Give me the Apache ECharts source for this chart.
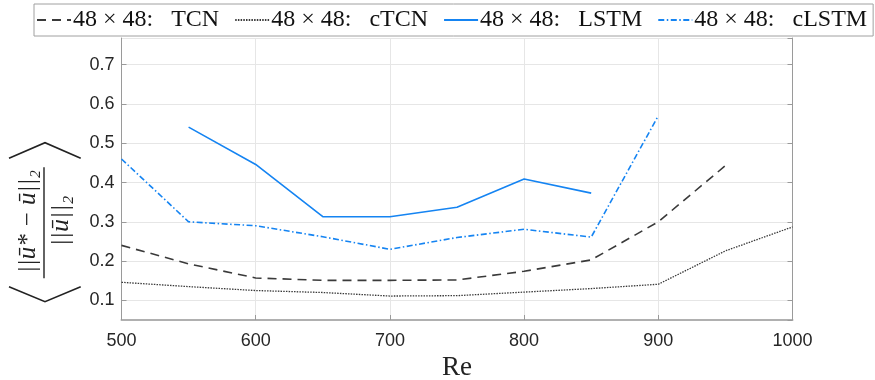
<!DOCTYPE html>
<html><head><meta charset="utf-8">
<script src="https://cdn.jsdelivr.net/npm/echarts@6/dist/echarts.min.js"></script>
<style>html,body{margin:0;padding:0;background:#fff}#c{width:875px;height:380px}</style>
</head><body><div id="c"></div>
<script>
const re = [500, 550, 600, 650, 700, 750, 800, 850, 900, 950, 1000];
const tcn = [0.240, 0.193, 0.157, 0.151, 0.151, 0.152, 0.174, 0.203, 0.300, 0.443, null];
const ctcn = [0.146, 0.135, 0.125, 0.120, 0.111, 0.112, 0.121, 0.130, 0.141, 0.226, 0.287];
const lstm = [null, 0.541, 0.446, 0.313, 0.313, 0.337, 0.409, 0.373, null, null, null];
const clstm = [0.460, 0.300, 0.290, 0.262, 0.230, 0.260, 0.281, 0.261, 0.570, null, null];
const names = ['48 × 48:   TCN', '48 × 48:   cTCN', '48 × 48:   LSTM', '48 × 48:   cLSTM'];
const xTicks = [500, 600, 700, 800, 900, 1000];

function pairs(v) { return re.map((x, i) => [x, v[i]]).filter(p => p[1] !== null); }

const blue = '#1584f2';
const dark = '#3a3a3a';
const chart = echarts.init(document.getElementById('c'), null, {renderer: 'canvas'});
const axisCol = '#9a9a9a';
const tickFont = {fontFamily: 'Liberation Sans', fontSize: 18, color: '#262626'};
const yCommon = {
  type: 'value', min: 0.05, max: 0.768, splitNumber: 7, minInterval: 0.1, maxInterval: 0.1,
  axisLine: {show: true, lineStyle: {color: axisCol, width: 1}},
  axisTick: {show: true, inside: true, length: 5, lineStyle: {color: axisCol}}
};
chart.setOption({
  animation: false,
  grid: {left: 121.5, right: 82.5, top: 38, bottom: 60, outerBoundsMode: 'none', containLabel: false},
  legend: {
    left: 34, top: 4, padding: [4, 6, 4, 2], itemGap: 15, itemWidth: 34, itemHeight: 14,
    backgroundColor: '#fff', borderColor: '#a0a0a0', borderWidth: 1, borderRadius: 0,
    itemStyle: {opacity: 0},
    textStyle: {fontFamily: 'Liberation Serif', fontSize: 24, color: '#111', padding: [0, 0, 0, -3]},
    data: names
  },
  xAxis: {
    type: 'value', min: 500, max: 1000, interval: 100,
    name: 'Re', nameLocation: 'middle', nameGap: 30,
    nameTextStyle: {fontFamily: 'Liberation Serif', fontSize: 27, color: '#222'},
    axisLine: {show: true, lineStyle: {color: '#b0b0b0', width: 2}},
    axisTick: {show: true, inside: true, length: 5, lineStyle: {color: axisCol}},
    axisLabel: Object.assign({margin: 12, formatter: v => xTicks.includes(v) ? String(v) : ''}, tickFont),
    splitLine: {show: true, lineStyle: {color: '#e6e6e6', width: 1}}
  },
  yAxis: [
    Object.assign({}, yCommon, {
      position: 'left',
      axisLabel: Object.assign({margin: 7, showMinLabel: false, showMaxLabel: false,
        formatter: v => (Math.abs(v * 10 - Math.round(v * 10)) < 1e-6 ? v.toFixed(1) : '')}, tickFont),
      splitLine: {show: true, lineStyle: {color: '#e6e6e6', width: 1}}
    }),
    Object.assign({}, yCommon, {
      position: 'right', axisLabel: {show: false}, splitLine: {show: false}
    })
  ],
  series: [
    {name: names[0], type: 'line', data: pairs(tcn), symbol: 'none', z: 3,
     lineStyle: {color: dark, width: 1.6, type: [9, 6]}, itemStyle: {color: dark}},
    {name: names[1], type: 'line', data: pairs(ctcn), symbol: 'none', z: 3,
     lineStyle: {color: dark, width: 1.3, type: [1.5, 1.2]}, itemStyle: {color: dark}},
    {name: names[2], type: 'line', data: pairs(lstm), symbol: 'none', z: 3,
     lineStyle: {color: blue, width: 1.6, type: 'solid'}, itemStyle: {color: blue}},
    {name: names[3], type: 'line', data: pairs(clstm), symbol: 'none', z: 3,
     lineStyle: {color: blue, width: 1.6, type: [6, 2.5, 1.5, 2.5]}, itemStyle: {color: blue}}
  ],
  graphic: [
    {type: 'polyline', shape: {points: [[9, 158.3], [45, 142.7], [80.7, 158.3]]},
     style: {stroke: '#222', lineWidth: 1.6, fill: null}},
    {type: 'polyline', shape: {points: [[9, 286.7], [45, 301.7], [80.7, 286.7]]},
     style: {stroke: '#222', lineWidth: 1.6, fill: null}},
    {type: 'line', shape: {x1: 44, y1: 167.3, x2: 44, y2: 278.3},
     style: {stroke: '#222', lineWidth: 1.4}},
    {type: 'text', x: 28, y: 221.5, rotation: Math.PI / 2,
     style: {text: '||ū* − ū||₂', font: 'italic 25px "Liberation Serif"', fill: '#222',
             align: 'center', verticalAlign: 'middle'}},
    {type: 'text', x: 61, y: 221, rotation: Math.PI / 2,
     style: {text: '||ū||₂', font: 'italic 26px "Liberation Serif"', fill: '#222',
             align: 'center', verticalAlign: 'middle'}}
  ]
});
</script></body></html>
